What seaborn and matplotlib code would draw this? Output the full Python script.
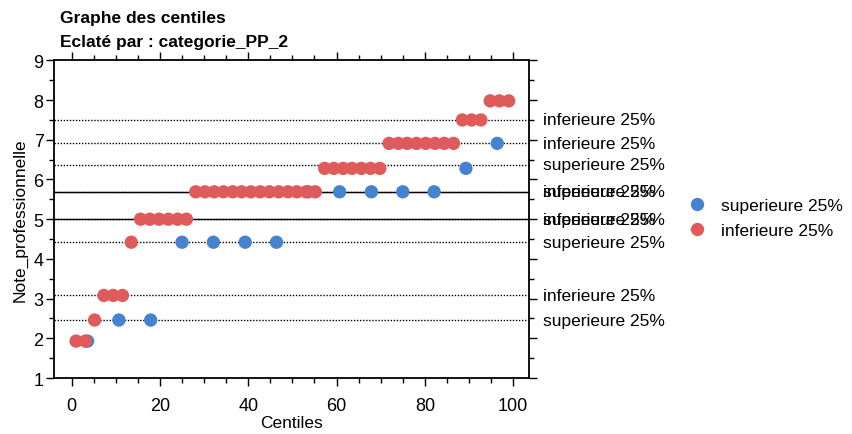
import pandas as pd
import seaborn as sns
import matplotlib.pyplot as plt
from matplotlib.ticker import MultipleLocator

# Centiles (x) and professional notes (y), one list per group
centiles_sup = [3.6, 10.7, 17.9, 25.0, 32.1, 39.3, 46.4, 53.6, 60.7, 67.9, 75.0, 82.1, 89.3, 96.4]
notes_sup = [1.93, 2.46, 2.46, 4.42, 4.42, 4.42, 4.42, 5.69, 5.69, 5.69, 5.69, 5.69, 6.28, 6.91]

centiles_inf = [1.0, 3.1, 5.2, 7.3, 9.4, 11.5, 13.5, 15.6, 17.7, 19.8, 21.9, 24.0,
                26.0, 28.1, 30.2, 32.3, 34.4, 36.5, 38.5, 40.6, 42.7, 44.8, 46.9, 49.0,
                51.0, 53.1, 55.2, 57.3, 59.4, 61.5, 63.5, 65.6, 67.7, 69.8, 71.9, 74.0,
                76.0, 78.1, 80.2, 82.3, 84.4, 86.5, 88.5, 90.6, 92.7, 94.8, 96.9, 99.0]
notes_inf = [1.93, 1.93, 2.46, 3.08, 3.08, 3.08, 4.42, 5.0, 5.0, 5.0, 5.0, 5.0,
             5.0, 5.69, 5.69, 5.69, 5.69, 5.69, 5.69, 5.69, 5.69, 5.69, 5.69, 5.69,
             5.69, 5.69, 5.69, 6.28, 6.28, 6.28, 6.28, 6.28, 6.28, 6.28, 6.91, 6.91,
             6.91, 6.91, 6.91, 6.91, 6.91, 6.91, 7.5, 7.5, 7.5, 7.98, 7.98, 7.98]

groups = ["superieure 25%", "inferieure 25%"]

# reference lines (P10, P25, P50, P75, P90) for each group
percentiles = [10, 25, 50, 75, 90]
lines_sup = [2.46, 4.42, 5.0, 5.69, 6.37]
lines_inf = [3.08, 5.0, 5.69, 6.91, 7.5]

palette = {"superieure 25%": "#4682cd", "inferieure 25%": "#df5b5b"}

df = pd.DataFrame({
    "Centiles": centiles_sup + centiles_inf,
    "Note_professionnelle": notes_sup + notes_inf,
    "categorie_PP_2": [groups[0]] * len(centiles_sup) + [groups[1]] * len(centiles_inf),
})

sns.set_style("ticks")
plt.rcParams["font.family"] = ["Liberation Sans", "DejaVu Sans"]
plt.rcParams["text.color"] = "black"
plt.rcParams["axes.labelcolor"] = "black"

fig = plt.figure(figsize=(8.53, 4.35), dpi=100)
ax = fig.add_axes([0.0633, 0.1287, 0.5569, 0.7302])

# percentile lines: median solid, others dotted, labelled on the right
for grp, levels in zip(groups, [lines_sup, lines_inf]):
    for p, v in zip(percentiles, levels):
        ax.axhline(v, color="black", lw=1.0, ls="-" if p == 50 else (0, (1, 1.2)), zorder=1)
        ax.text(1.0295, v, grp, transform=ax.get_yaxis_transform(),
                va="center", ha="left", fontsize=12.5, clip_on=False)

sns.scatterplot(data=df, x="Centiles", y="Note_professionnelle", hue="categorie_PP_2",
                hue_order=groups, palette=palette, s=92, linewidth=0, alpha=1,
                ax=ax, zorder=3, legend=True)

handles, labels = ax.get_legend_handles_labels()
ax.get_legend().remove()
fig.legend(handles, labels, loc="center left", bbox_to_anchor=(0.778, 0.4966),
           frameon=False, fontsize=12.5, handletextpad=0.4, labelspacing=0.6,
           borderpad=0.4)

ax.set_xlim(-4, 103.6)
ax.set_ylim(1, 9)
ax.xaxis.set_major_locator(MultipleLocator(20))
ax.xaxis.set_minor_locator(MultipleLocator(5))
ax.yaxis.set_major_locator(MultipleLocator(1))
ax.yaxis.set_minor_locator(MultipleLocator(0.5))
ax.tick_params(which="both", direction="out", top=True, right=True,
               labeltop=False, labelright=False, colors="black", width=1)
ax.tick_params(which="major", length=6, labelsize=13)
ax.tick_params(which="minor", length=3.5)
ax.tick_params(axis="x", pad=8)
ax.tick_params(axis="y", pad=1.5)
for sp in ax.spines.values():
    sp.set_linewidth(1.3)
    sp.set_color("black")

ax.set_xlabel("Centiles", fontsize=12.5)
ax.set_ylabel("Note_professionnelle", fontsize=12.5)
ax.xaxis.set_label_coords(0.5, -0.115)
ax.yaxis.set_label_coords(-0.055, 0.5)

fig.text(60 / 853, 1 - 23 / 435, "Graphe des centiles", fontsize=12.5,
         weight="bold", va="baseline", ha="left")
fig.text(60 / 853, 1 - 47 / 435, "Eclaté par : categorie_PP_2", fontsize=12.5,
         weight="bold", va="baseline", ha="left")

fig.savefig("out.png", dpi=100)
